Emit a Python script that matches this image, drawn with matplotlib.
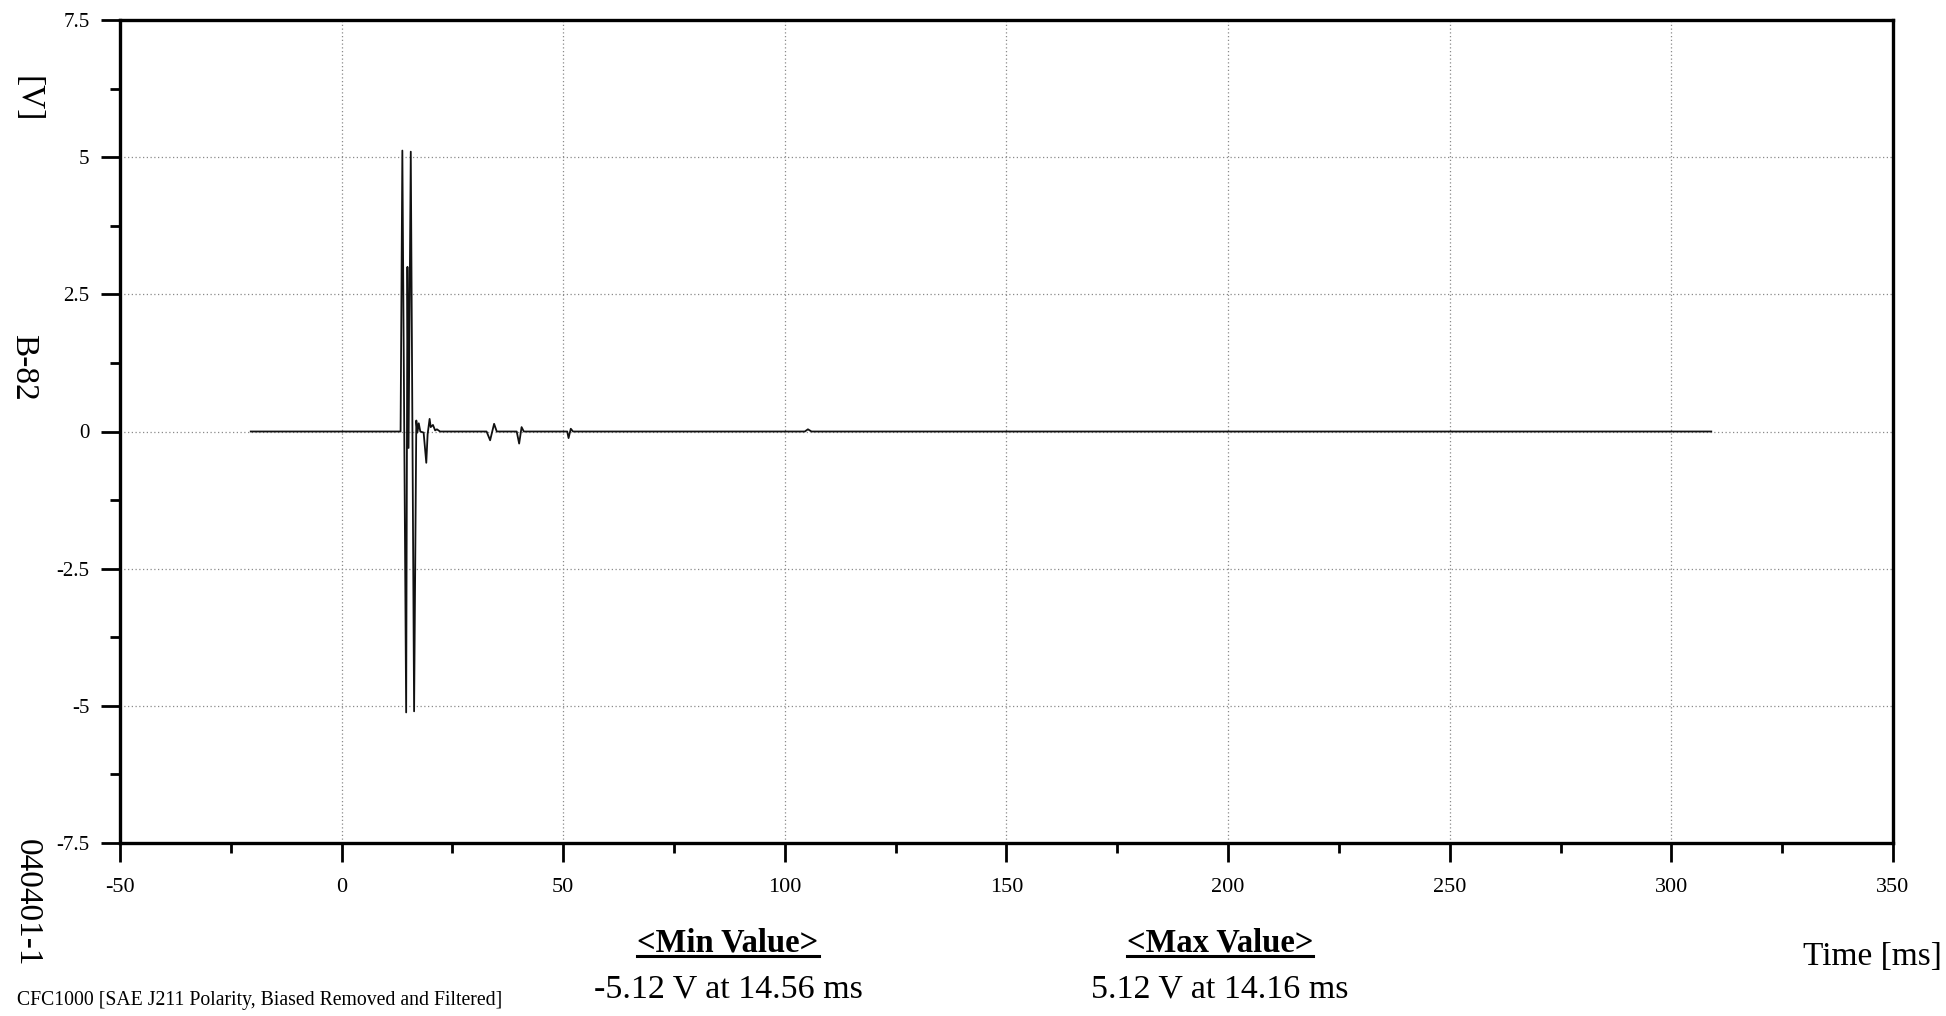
import numpy as np
import matplotlib
matplotlib.use("Agg")
import matplotlib.pyplot as plt
from matplotlib.ticker import MultipleLocator
from matplotlib.lines import Line2D

# trace (time in ms, channel in V)
t_ms = [-20.5, 13.3, 13.7, 14.56, 14.85, 15.1, 15.6, 16.35, 16.85, 17.1, 17.4, 17.75,
        18.5, 19.1, 19.4, 19.85, 20.1, 20.6, 21.1, 21.5, 22.2,
        32.7, 33.5, 34.4, 35.0,
        39.5, 40.05, 40.6, 41.1,
        50.9, 51.2, 51.7, 52.2,
        104.5, 105.2, 106.0, 309.0]
volts = [0.0, 0.0, 5.12, -5.12, 3.0, -0.3, 5.1, -5.1, 0.2, -0.02, 0.15, 0.0,
         -0.02, -0.57, -0.05, 0.23, 0.08, 0.12, 0.02, 0.04, 0.0,
         0.0, -0.16, 0.14, 0.0,
         0.0, -0.22, 0.08, 0.0,
         0.0, -0.12, 0.05, 0.0,
         0.0, 0.04, 0.0, 0.0]

# summary values as printed under the chart
min_v, min_t = -5.12, 14.56
max_v, max_t = 5.12, 14.16

channel = "B-82"
test_id = "040401-1"
filter_note = "CFC1000 [SAE J211 Polarity, Biased Removed and Filtered]"
x_ticks = [-50, 0, 50, 100, 150, 200, 250, 300, 350]
y_ticks = [-7.5, -5, -2.5, 0, 2.5, 5, 7.5]

plt.rcParams['font.family'] = ['Liberation Serif', 'DejaVu Serif']
plt.rcParams['axes.unicode_minus'] = False

W, H = 1946, 1016
fig = plt.figure(figsize=(W / 100, H / 100), dpi=100)
# axes box in pixel coords of the scan
left, right, top, bottom = 120, 1893, 20, 843
ax = fig.add_axes([left / W, 1 - bottom / H, (right - left) / W, (bottom - top) / H])

ax.plot(t_ms, volts, color="#111111", lw=1.3)

ax.set_xlim(-50, 350)
ax.set_ylim(-7.5, 7.5)
ax.set_xticks(x_ticks)
ax.set_yticks(y_ticks)
ax.set_xticklabels([str(v) for v in x_ticks])
ax.set_yticklabels(["%g" % v for v in y_ticks])
ax.xaxis.set_minor_locator(MultipleLocator(25))
ax.yaxis.set_minor_locator(MultipleLocator(1.25))

ax.tick_params(which="major", direction="out", length=14, width=2, color="black")
ax.tick_params(which="minor", direction="out", length=7.5, width=2, color="black")
ax.tick_params(axis="x", labelsize=16, pad=11.5)
ax.tick_params(axis="y", labelsize=15, pad=8)
for s in ax.spines.values():
    s.set_linewidth(2.4)
    s.set_color("black")

ax.grid(True, which="major", color="#8a8a8a", linestyle=(0, (1, 2)), linewidth=0.9)

# labels along the left edge (read top to bottom)
fig.text(28 / W, 1 - 99 / H, "[V]", rotation=270, fontsize=24, ha="center", va="center")
fig.text(23 / W, 1 - 367 / H, channel, rotation=270, fontsize=24, ha="center", va="center")
fig.text(27 / W, 1 - 903 / H, test_id, rotation=270, fontsize=24, ha="center", va="center")

fig.text(1942 / W, 1 - 965 / H, "Time [ms]", fontsize=24, ha="right", va="baseline")
fig.text(17 / W, 1 - 1005 / H, filter_note, fontsize=14.2, ha="left", va="baseline")

# min / max summary
min_txt = "%.2f V at %.2f ms" % (min_v, min_t)
max_txt = "%.2f V at %.2f ms" % (max_v, max_t)

heads = []
for cx, head, val in [(728, "<Min Value>", min_txt), (1220, "<Max Value>", max_txt)]:
    h = fig.text(cx / W, 1 - 951 / H, head, fontsize=23.5, fontweight="bold",
                 ha="center", va="baseline")
    fig.text(cx / W, 1 - 998 / H, val, fontsize=24.5, ha="center", va="baseline")
    heads.append(h)

fig.canvas.draw()
r = fig.canvas.get_renderer()
for h in heads:
    bb = h.get_window_extent(r)
    yl = 1 - 956 / H
    fig.add_artist(Line2D([bb.x0 / W, bb.x1 / W], [yl, yl], color="black", lw=2.2))

fig.savefig("out.png", dpi=100, facecolor="white")
